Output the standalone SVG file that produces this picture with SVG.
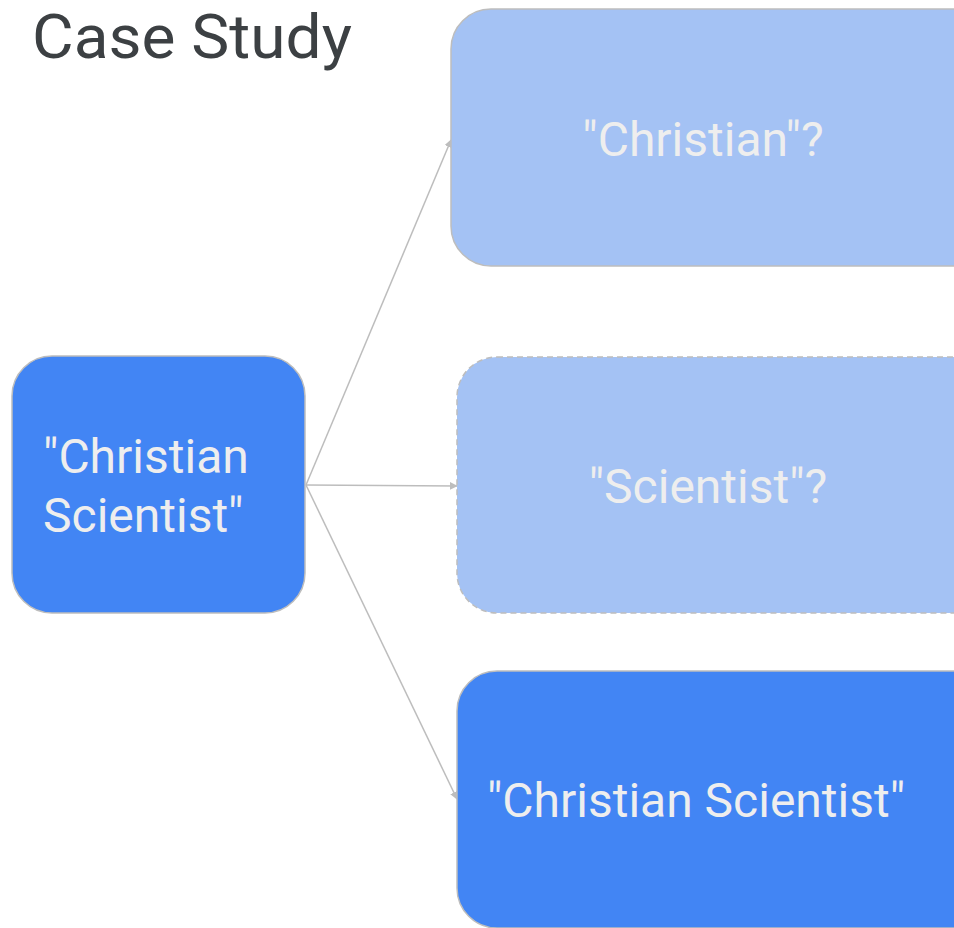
<svg xmlns="http://www.w3.org/2000/svg" width="954" height="928" viewBox="0 0 954 928">
<defs>
<style>
.dark{fill:#4285F4;stroke:#BDBDBD;stroke-width:1.5}
.light{fill:#A4C2F4;stroke:#BDBDBD;stroke-width:1.5}
.dash{stroke-dasharray:6 4}
.lbl{font-family:Roboto,"Liberation Sans",sans-serif;font-size:48px;fill:#EEEEEE}
.conn{stroke:#BDBDBD;stroke-width:1.5;fill:none;marker-end:url(#ah)}
.title{font-family:Roboto,"Liberation Sans",sans-serif;font-size:62px;fill:#3C4043}
</style>
<marker id="ah" viewBox="0 0 10 10" refX="9" refY="5" markerWidth="8" markerHeight="8" markerUnits="userSpaceOnUse" orient="auto">
<path d="M0,0 L10,5 L0,10 z" fill="#BDBDBD"/>
</marker>
</defs>
<rect width="954" height="928" fill="#FFFFFF"/>
<text class="title" x="32" y="58" textLength="320" lengthAdjust="spacingAndGlyphs">Case Study</text>
<g id="connectors">
<line class="conn" x1="306" y1="485" x2="451" y2="140"/>
<line class="conn" x1="306" y1="485" x2="457" y2="486"/>
<line class="conn" x1="306" y1="485" x2="457" y2="799"/>
</g>
<g id="node-source">
<rect class="dark" x="12" y="356" width="293" height="257" rx="40"/>
<text class="lbl" x="43" y="473">"Christian</text>
<text class="lbl" x="43" y="532">Scientist"</text>
</g>
<g id="node-christian">
<rect class="light" x="451" y="9" width="540" height="257" rx="40"/>
<text class="lbl" x="703" y="156" text-anchor="middle">"Christian"?</text>
</g>
<g id="node-scientist">
<rect class="light dash" x="457" y="357" width="534" height="256" rx="40"/>
<text class="lbl" x="708" y="503" text-anchor="middle">"Scientist"?</text>
</g>
<g id="node-phrase">
<rect class="dark" x="457" y="671" width="534" height="257" rx="40"/>
<text class="lbl" x="696" y="817" text-anchor="middle">"Christian Scientist"</text>
</g>
</svg>
